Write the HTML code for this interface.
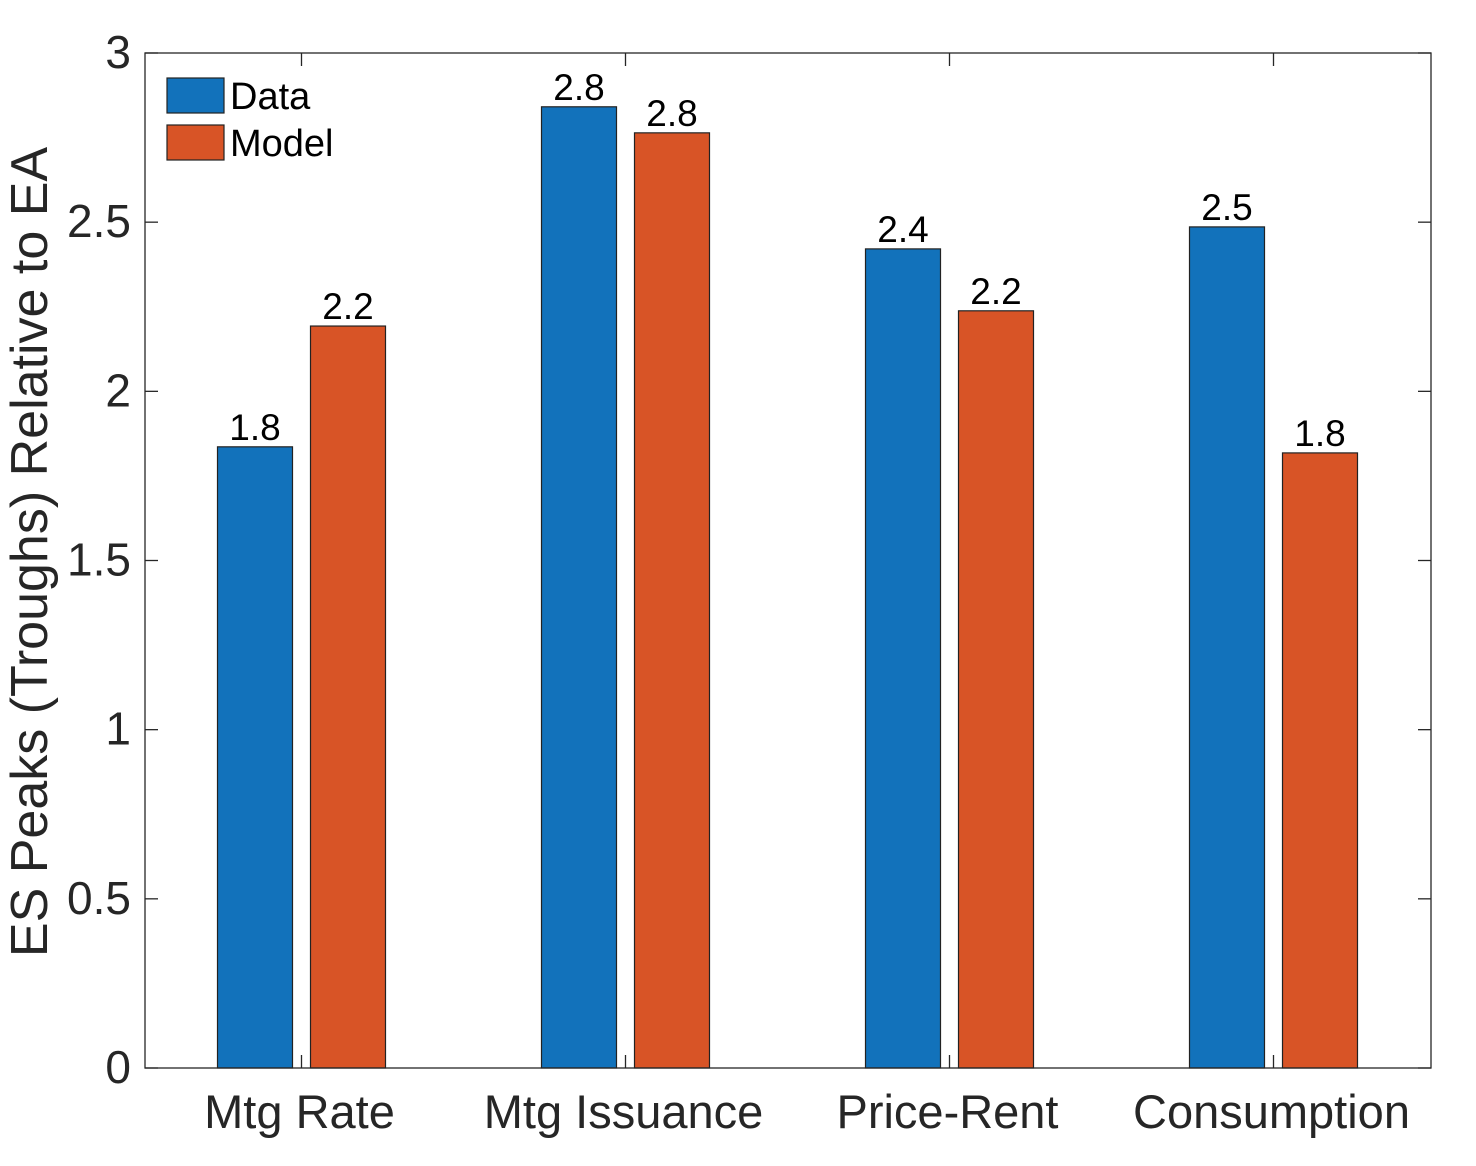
<!DOCTYPE html>
<html><head><meta charset="utf-8"><style>
body{margin:0;background:#fff}
svg{display:block;font-family:"Liberation Sans",Helvetica,Arial,sans-serif}
</style></head><body>
<svg id="chart" width="1476" height="1166" viewBox="0 0 1476 1166">
<g id="marks"></g>
</svg>
<script>
const categories=["Mtg Rate","Mtg Issuance","Price-Rent","Consumption"];
const dataValues=[1.836,2.841,2.421,2.486];
const modelValues=[2.193,2.764,2.238,1.818];
const yTicks=[0,0.5,1,1.5,2,2.5,3];
const yTickLabels=["0","0.5","1","1.5","2","2.5","3"];
const seriesNames=["Data","Model"];
const colors=["#1272BB","#D85426"];

const L=145,R=1431,T=53,B=1068;
const yScale=v=>B-(v-0)/(3-0)*(B-T);
const xScale=i=>301.5+i*324;
const NS="http://www.w3.org/2000/svg";
const g=document.getElementById("marks");
function mk(tag,attrs,parent){const e=document.createElementNS(NS,tag);for(const k in attrs)e.setAttribute(k,attrs[k]);(parent||g).appendChild(e);return e;}

mk("rect",{x:L,y:T,width:R-L,height:B-T,fill:"#fff",stroke:"none"});
const series=[dataValues,modelValues];
const bw=75,off=46.5;
series.forEach((vals,s)=>{
  vals.forEach((v,i)=>{
    const cx=xScale(i)+(s===0?-off:off);
    const r=mk("rect",{x:cx-bw/2,y:yScale(v),width:bw,height:yScale(0)-yScale(v),fill:colors[s],stroke:"#222","stroke-width":1.2});
    
    
    const t=mk("text",{x:cx,y:yScale(v)-7,"text-anchor":"middle","font-size":37,fill:"#000"});
    t.textContent=v.toFixed(1);
    
    
  });
});
mk("rect",{x:L,y:T,width:R-L,height:B-T,fill:"none",stroke:"#262626","stroke-width":1.3});
yTicks.forEach((v,k)=>{
  const y=yScale(v);
  mk("line",{x1:L,x2:L+13,y1:y,y2:y,stroke:"#262626","stroke-width":1.3});
  mk("line",{x1:R,x2:R-13,y1:y,y2:y,stroke:"#262626","stroke-width":1.3});
  const t=mk("text",{x:L-14,y:y+15,"text-anchor":"end","font-size":46,fill:"#262626"});
  t.textContent=yTickLabels[k];
  
  
});
categories.forEach((c,i)=>{
  const x=xScale(i);
  mk("line",{x1:x,x2:x,y1:B,y2:B-13,stroke:"#262626","stroke-width":1.3});
  mk("line",{x1:x,x2:x,y1:T,y2:T+13,stroke:"#262626","stroke-width":1.3});
  const t=mk("text",{x:x-2,y:1128,"text-anchor":"middle","font-size":47,fill:"#262626"});
  t.textContent=c;
  
  
});
const yl=mk("text",{transform:"translate(47,552) rotate(-90)","text-anchor":"middle","font-size":52,fill:"#262626"});
yl.textContent="ES Peaks (Troughs) Relative to EA";


seriesNames.forEach((n,s)=>{
  const y=78+s*47;
  const r=mk("rect",{x:167,y:y,width:57,height:35,fill:colors[s],stroke:"#222","stroke-width":1.2});
  
  
  const t=mk("text",{x:230,y:y+31,"font-size":38,fill:"#000"});
  t.textContent=n;
  
  
});
</script>
</body></html>
